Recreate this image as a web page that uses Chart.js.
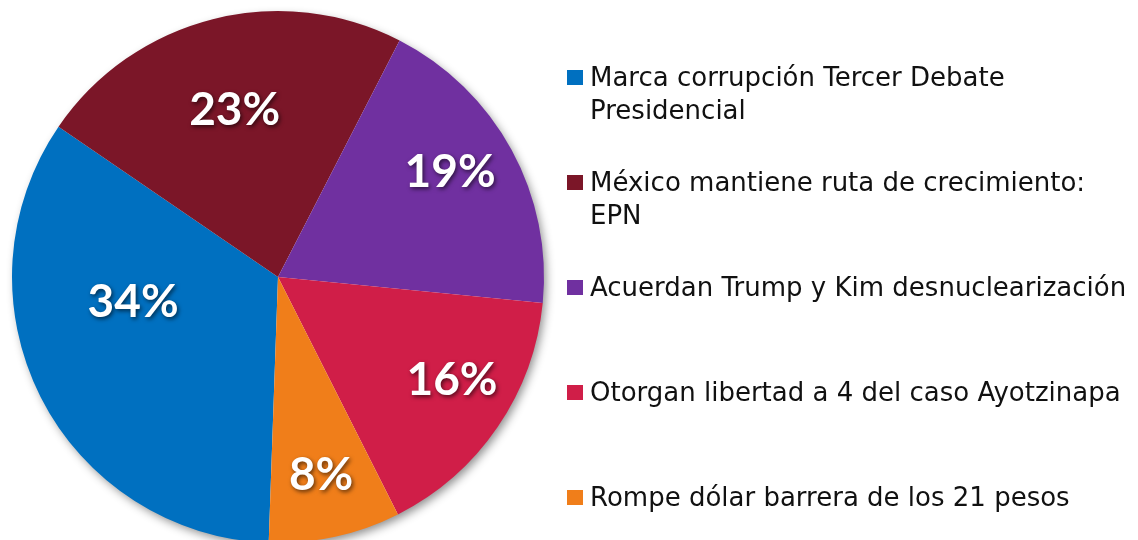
<!DOCTYPE html>
<html>
<head>
<meta charset="utf-8">
<script src="https://cdn.jsdelivr.net/npm/chart.js@4/dist/chart.umd.min.js"></script>
<style>
  html, body { margin: 0; padding: 0; background: #ffffff; overflow: hidden; }
  #wrap { position: relative; width: 1138px; height: 540px; overflow: hidden; }
  #chartBox { position: absolute; left: 0; top: 0; width: 1138px; height: 550px; }
  #legend { position: absolute; left: 0; top: 0; width: 1138px; height: 540px; pointer-events: none; }
  .item { position: absolute; left: 590px; font-family: "DejaVu Sans", sans-serif; font-size: 26px; line-height: 33px; color: #111111; white-space: nowrap; }
  .swatch { position: absolute; left: -23px; top: 9px; width: 16px; height: 15px; }
</style>
</head>
<body>
<div id="wrap">
  <div id="chartBox"><canvas id="c"></canvas></div>
  <div id="legend"></div>
</div>
<script>
// ---- data ----
const categories = [
  "Marca corrupción Tercer Debate Presidencial",
  "México mantiene ruta de crecimiento: EPN",
  "Acuerdan Trump y Kim desnuclearización",
  "Otorgan libertad a 4 del caso Ayotzinapa",
  "Rompe dólar barrera de los 21 pesos"
];
const legendLines = [
  ["Marca corrupción Tercer Debate", "Presidencial"],
  ["México mantiene ruta de crecimiento:", "EPN"],
  ["Acuerdan Trump y Kim desnuclearización"],
  ["Otorgan libertad a 4 del caso Ayotzinapa"],
  ["Rompe dólar barrera de los 21 pesos"]
];
const shares = [34, 23, 19, 16, 8];
const colors = ["#0070C0", "#7B1628", "#7030A0", "#D01E48", "#F07E1A"];

// label placement: [fraction of radius, angle in degrees clockwise from top]
const labelPlacement = [[0.552, 260.8], [0.655, 345.6], [0.762, 58.1], [0.756, 120.1], [0.754, 167.6]];

// ---- legend (HTML, built from arrays) ----
const legendEl = document.getElementById('legend');
legendLines.forEach((lines, i) => {
  const d = document.createElement('div');
  d.className = 'item';
  d.style.top = (61 + i * 105) + 'px';
  const sw = document.createElement('span');
  sw.className = 'swatch';
  sw.style.background = colors[i];
  d.appendChild(sw);
  lines.forEach((ln, k) => {
    if (k > 0) d.appendChild(document.createElement('br'));
    d.appendChild(document.createTextNode(ln));
  });
  legendEl.appendChild(d);
});

// ---- plugins ----
const shadowPlugin = {
  id: 'pieShadow',
  beforeDatasetsDraw(chart) {
    const arc = chart.getDatasetMeta(0).data[0];
    if (!arc) return;
    const ctx = chart.ctx;
    ctx.save();
    ctx.shadowColor = 'rgba(0,0,0,0.45)';
    ctx.shadowBlur = 10;
    ctx.shadowOffsetX = 3;
    ctx.shadowOffsetY = 4;
    ctx.fillStyle = '#ffffff';
    ctx.beginPath();
    ctx.arc(arc.x, arc.y, arc.outerRadius - 1, 0, Math.PI * 2);
    ctx.fill();
    ctx.restore();
  }
};

const labelPlugin = {
  id: 'pctLabels',
  afterDatasetsDraw(chart) {
    const ctx = chart.ctx;
    const meta = chart.getDatasetMeta(0);
    const vals = chart.data.datasets[0].data;
    const total = vals.reduce((a, b) => a + b, 0);
    ctx.save();
    ctx.font = 'bold 46px Lato, "Open Sans", sans-serif';
    ctx.textAlign = 'center';
    ctx.textBaseline = 'middle';
    ctx.fillStyle = '#ffffff';
    ctx.shadowColor = 'rgba(0,0,0,0.6)';
    ctx.shadowBlur = 4;
    ctx.shadowOffsetX = 1.5;
    ctx.shadowOffsetY = 2;
    meta.data.forEach((arc, i) => {
      const [f, deg] = labelPlacement[i];
      const a = (deg - 90) * Math.PI / 180;
      const r = arc.outerRadius * f;
      const x = arc.x + Math.cos(a) * r;
      const y = arc.y + Math.sin(a) * r;
      ctx.fillText(Math.round(vals[i] / total * 100) + '%', x, y + 2);
    });
    ctx.restore();
  }
};

new Chart(document.getElementById('c'), {
  type: 'pie',
  data: {
    labels: categories,
    datasets: [{
      data: shares,
      backgroundColor: colors,
      borderWidth: 0
    }]
  },
  options: {
    responsive: true,
    maintainAspectRatio: false,
    animation: false,
    rotation: 182,
    layout: { padding: { left: 12, top: 11, right: 594, bottom: 7 } },
    plugins: {
      legend: { display: false },
      tooltip: { enabled: false }
    }
  },
  plugins: [shadowPlugin, labelPlugin]
});
</script>
</body>
</html>
